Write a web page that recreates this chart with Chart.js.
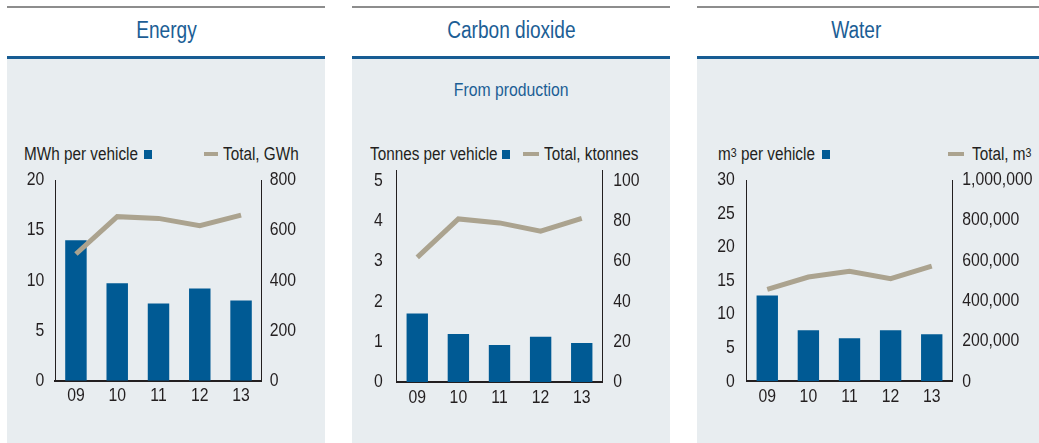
<!DOCTYPE html>
<html>
<head>
<meta charset="utf-8">
<script src="https://cdn.jsdelivr.net/npm/chart.js@4.4.1/dist/chart.umd.min.js"></script>
<style>
  html, body { margin:0; padding:0; background:#ffffff; }
  body { width:1039px; height:443px; position:relative; overflow:hidden;
         font-family:"Liberation Sans",Arial,sans-serif; color:#231f20; }
  .panel { position:absolute; top:0; height:443px; }
  .topline { position:absolute; left:0; right:0; top:6px; height:2px; background:#8d8d8d; }
  .title { position:absolute; left:0; right:0; top:14.5px; line-height:30px; font-size:23px; color:#1c5e95; text-align:center; white-space:nowrap; }
  .blueline { position:absolute; left:0; right:0; top:56px; height:3px; background:#175c93; }
  .bg { position:absolute; left:0; right:0; top:59px; bottom:0; background:#e8edf0; }
  .sub { position:absolute; left:0; right:0; top:77.5px; line-height:24px; font-size:19px; color:#1c5e95; text-align:center; white-space:nowrap; }
  .c { display:inline-block; transform:scaleX(0.83); transform-origin:50% 50%; }
  .leg { position:absolute; top:143.5px; line-height:20px; font-size:18px; white-space:nowrap; color:#231f20;
         transform:scaleX(0.85); transform-origin:0 50%; }
  .sq { position:absolute; top:149.5px; width:8px; height:9px; background:#005a94; }
  .dash { position:absolute; top:152px; height:4px; background:#aba38f; }
  sup { font-size:12.5px; vertical-align:3px; line-height:0; }
  canvas { position:absolute; top:130px; }
</style>
</head>
<body>
<div class="panel" style="left:7px;width:318px;">
  <div class="topline"></div><div class="title"><span class="c">Energy</span></div><div class="blueline"></div><div class="bg"></div>
</div>
<div class="panel" style="left:352px;width:318px;">
  <div class="topline"></div><div class="title"><span class="c">Carbon dioxide</span></div><div class="blueline"></div><div class="bg"></div>
  <div class="sub"><span class="c">From production</span></div>
</div>
<div class="panel" style="left:697px;width:342px;">
  <div class="topline"></div><div class="title" style="width:318px;"><span class="c">Water</span></div><div class="blueline"></div><div class="bg"></div>
</div>

<div class="leg" style="left:24px;">MWh per vehicle</div>
<div class="sq" style="left:144px;"></div>
<div class="dash" style="left:203.5px;width:14px;"></div>
<div class="leg" style="left:223px;">Total, GWh</div>

<div class="leg" style="left:370px;">Tonnes per vehicle</div>
<div class="sq" style="left:502px;"></div>
<div class="dash" style="left:523px;width:15.5px;"></div>
<div class="leg" style="left:544px;">Total, ktonnes</div>

<div class="leg" style="left:717.5px;">m<sup>3</sup> per vehicle</div>
<div class="sq" style="left:822px;"></div>
<div class="dash" style="left:948px;width:16px;"></div>
<div class="leg" style="left:971.5px;">Total, m<sup>3</sup></div>

<canvas id="c1" width="318" height="313" style="left:7px;width:318px;height:313px;"></canvas>
<canvas id="c2" width="318" height="313" style="left:352px;width:318px;height:313px;"></canvas>
<canvas id="c3" width="342" height="313" style="left:697px;width:342px;height:313px;"></canvas>

<script>
// ---- data ----
const years = ['09', '10', '11', '12', '13'];

const energyPerVehicle = [14.0, 9.7, 7.7, 9.2, 8.0];
const energyTotal = [505, 654, 647, 618, 660];
const energyLeftTicks = [0, 5, 10, 15, 20];
const energyRightTicks = [0, 200, 400, 600, 800];

const co2PerVehicle = [1.70, 1.19, 0.92, 1.12, 0.97];
const co2Total = [61.8, 80.9, 78.9, 74.8, 81.1];
const co2LeftTicks = [0, 1, 2, 3, 4, 5];
const co2RightTicks = [0, 20, 40, 60, 80, 100];

const waterPerVehicle = [12.8, 7.6, 6.4, 7.6, 7.0];
const waterTotal = [457000, 518000, 546000, 510000, 572000];
const waterLeftTicks = [0, 5, 10, 15, 20, 25, 30];
const waterRightTicks = [0, 200000, 400000, 600000, 800000, 1000000];

// ---- drawing ----
const FONT = '"Liberation Sans",Arial,sans-serif';
const INK = '#231f20';

// condensed text rendering (narrow face emulation): compress glyphs horizontally around anchor
function condense(ctx, k) {
  const orig = ctx.fillText;
  ctx.fillText = function (t, x, y, mw) {
    this.save();
    this.translate(x, y);
    this.scale(k, 1);
    orig.call(this, t, 0, 0);
    this.restore();
  };
}

function makeChart(id, bars, line, lt, rt, lmax, rmax, g) {
  const ctx = document.getElementById(id).getContext('2d');
  condense(ctx, 0.83);
  new Chart(ctx, {
    data: {
      labels: years,
      datasets: [
        { type: 'line', data: line, yAxisID: 'yR', order: 0,
          borderColor: '#aba38f', borderWidth: 5, pointRadius: 0, tension: 0,
          borderCapStyle: 'butt', borderJoinStyle: 'miter', fill: false },
        { type: 'bar', data: bars, yAxisID: 'yL', order: 1,
          backgroundColor: '#005a94', borderWidth: 0,
          categoryPercentage: 1.0, barPercentage: 0.52 }
      ]
    },
    options: {
      responsive: false, animation: false,
      layout: { autoPadding: false, padding: { top: g.top, left: 0, right: 0, bottom: 0 } },
      plugins: { legend: { display: false }, tooltip: { enabled: false } },
      scales: {
        x: {
          grid: { display: false, drawTicks: false },
          border: { display: true, color: INK, width: 2 },
          ticks: { color: INK, font: { family: FONT, size: 19 }, padding: 4, maxRotation: 0, autoSkip: false },
          afterFit: s => { s.height = g.bottom; }
        },
        yL: {
          position: 'left', min: 0, max: lmax,
          grid: { display: false, drawTicks: false },
          border: { display: true, color: INK, width: 1 },
          ticks: { color: INK, font: { family: FONT, size: 19 }, padding: g.lp },
          afterBuildTicks: s => { s.ticks = lt.map(v => ({ value: v })); },
          afterFit: s => { s.width = g.lw; }
        },
        yR: {
          position: 'right', min: 0, max: rmax,
          grid: { display: false, drawTicks: false },
          border: { display: true, color: INK, width: 1 },
          ticks: { color: INK, font: { family: FONT, size: 19 }, padding: g.rp,
                   callback: v => Number(v).toLocaleString('en-US') },
          afterBuildTicks: s => { s.ticks = rt.map(v => ({ value: v })); },
          afterFit: s => { s.width = g.rw; }
        }
      }
    }
  });
}

makeChart('c1', energyPerVehicle, energyTotal, energyLeftTicks, energyRightTicks, 20, 800,
  { top: 50, bottom: 62.3, lw: 48.3, rw: 63.3, lp: 11, rp: 8 });
makeChart('c2', co2PerVehicle, co2Total, co2LeftTicks, co2RightTicks, 5.24, 104.8,
  { top: 40.7, bottom: 61, lw: 44.7, rw: 67.7, lp: 14, rp: 11 });
makeChart('c3', waterPerVehicle, waterTotal, waterLeftTicks, waterRightTicks, 30, 1000000,
  { top: 50, bottom: 61.7, lw: 49.7, rw: 86.7, lp: 12, rp: 10 });
</script>
</body>
</html>
